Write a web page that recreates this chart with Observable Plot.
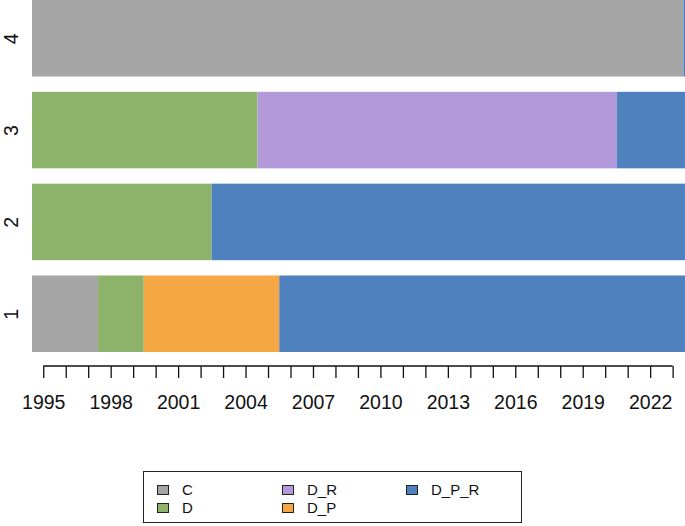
<!DOCTYPE html>
<html>
<head>
<meta charset="utf-8">
<script src="https://cdn.jsdelivr.net/npm/d3@7"></script>
<script src="https://cdn.jsdelivr.net/npm/@observablehq/plot@0.6"></script>
<style>
  html, body { margin: 0; padding: 0; background: #fff; }
  #wrap { position: relative; width: 685px; height: 526px; font-family: "Liberation Sans", Arial, sans-serif; }
  #legend { position: absolute; left: 143px; top: 471px; width: 377px; height: 50px; border: 1.5px solid #222; box-sizing: content-box; }
  .item { position: absolute; font-size: 15px; color: #111; line-height: 16px; }
  .sw { position: absolute; width: 10px; height: 8px; border: 1.3px solid #222; }
</style>
</head>
<body>
<div id="wrap"></div>
<script>
// Data
const rows       = [1, 1, 1, 1, 2, 2, 3, 3, 3, 4, 4];
const categories = ["C", "D", "D_P", "D_P_R", "D", "D_P_R", "D", "D_R", "D_P_R", "C", "D_P_R"];
const starts     = [1994.5, 1997.44, 1999.47, 2005.5, 1994.5, 2002.49, 1994.5, 2004.53, 2020.52, 1994.5, 2023.48];
const ends       = [1997.44, 1999.47, 2005.5, 2023.55, 2002.49, 2023.55, 2004.53, 2020.52, 2023.55, 2023.48, 2023.55];

const rowLabels  = [4, 3, 2, 1];
const tickYears  = d3.range(1995, 2024);
const legendCats = ["C", "D", "D_R", "D_P", "D_P_R"];
const legendColors = ["#A5A5A5", "#8DB36B", "#B299DA", "#F4A742", "#4E81BD"];

const segs = rows.map((r, i) => ({row: r, cat: categories[i], start: starts[i], end: ends[i]}));

const axisLine = (index, scales, values, dims) => {
  const y = dims.height - dims.marginBottom;
  return d3.create("svg:line")
    .attr("x1", scales.x(tickYears[0])).attr("x2", scales.x(tickYears[tickYears.length - 1]))
    .attr("y1", y).attr("y2", y)
    .attr("stroke", "#111").attr("stroke-width", 1.3).node();
};

const chart = Plot.plot({
  width: 685,
  height: 440,
  marginTop: 0,
  marginLeft: 32,
  marginRight: 0,
  marginBottom: 74,
  style: {fontFamily: "Liberation Sans, Arial, sans-serif", background: "#fff"},
  x: {domain: [1994.5, 2023.55]},
  y: {domain: rowLabels, paddingInner: 0.2 / 1.2, paddingOuter: 0, insetBottom: 14, round: false, axis: null},
  color: {domain: legendCats, range: legendColors},
  marks: [
    Plot.barX(segs, {y: "row", x1: "start", x2: "end", fill: "cat", clip: "frame"}),
    Plot.axisX({ticks: tickYears, tickSize: 12, tickPadding: 17, stroke: "#111", strokeWidth: 1.3,
      tickFormat: d => (d - 1995) % 3 === 0 ? String(d) : "", fontSize: 19.5, fill: "#111", label: null}),
    axisLine,
    Plot.text(rowLabels, {y: d => d, text: d => String(d), frameAnchor: "left", dx: -21, rotate: -90,
      fontSize: 19.5, fill: "#111", textAnchor: "middle", lineAnchor: "middle"})
  ]
});

const wrap = document.getElementById("wrap");
wrap.appendChild(chart);

const legend = document.createElement("div");
legend.id = "legend";
wrap.appendChild(legend);
// legend layout (column-major like R legend with ncol=3)
const colX = [0, 125, 249];
legendCats.forEach((c, i) => {
  const col = Math.floor(i / 2), row = i % 2;
  const sw = document.createElement("div");
  sw.className = "sw";
  sw.style.left = (13 + colX[col]) + "px";
  sw.style.top = (13 + row * 18) + "px";
  sw.style.background = legendColors[i];
  legend.appendChild(sw);
  const t = document.createElement("div");
  t.className = "item";
  t.textContent = c;
  t.style.left = (38 + colX[col]) + "px";
  t.style.top = (10 + row * 18) + "px";
  legend.appendChild(t);
});
</script>
</body>
</html>
